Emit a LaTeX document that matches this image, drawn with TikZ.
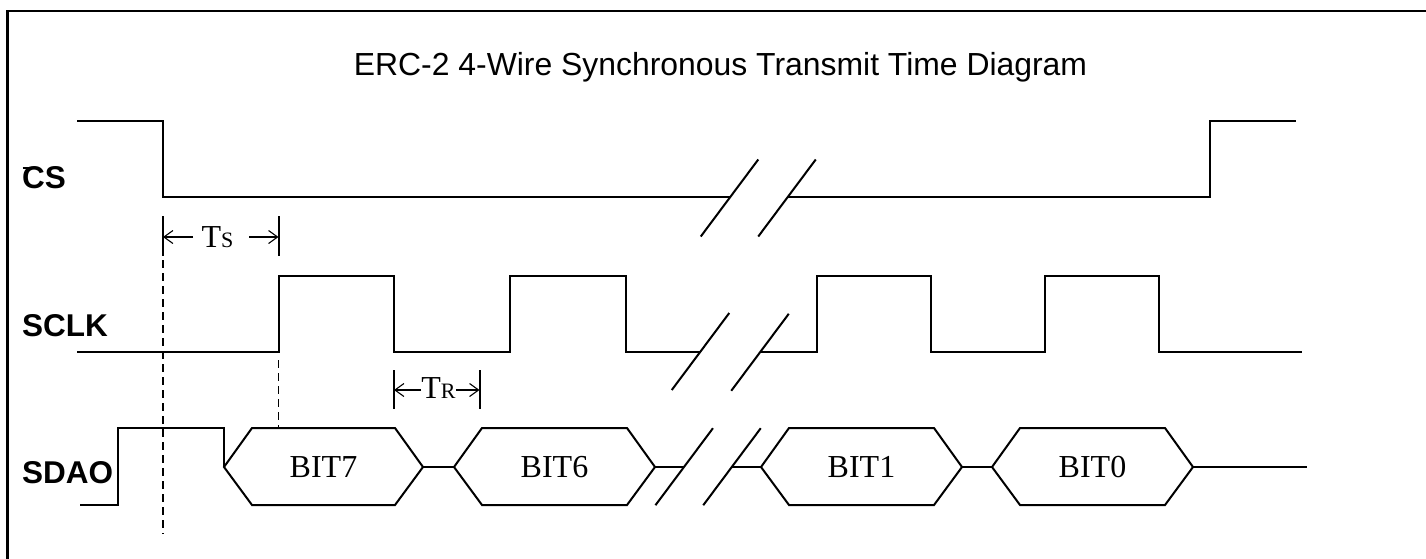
\documentclass[tikz,border=0pt]{standalone}
\usepackage{fontspec}
\setmainfont{Liberation Serif}
\setsansfont{Liberation Sans}
\usetikzlibrary{arrows.meta}
\tikzset{
  wave/.style={line width=2pt, line join=miter},
  frame/.style={line width=2.6pt},
  guide/.style={line width=1.5pt, dash pattern=on 8pt off 5pt},
  tick/.style={line width=2pt},
  dimarrow/.style={line width=1.1pt, -{Straight Barb[length=9pt,width=13pt,line width=1.1pt]}},
  siglbl/.style={anchor=base west, inner sep=0pt, font=\fontsize{31.5}{36}\selectfont\sffamily\bfseries},
  bitlbl/.style={anchor=base, inner sep=0pt, font=\fontsize{32}{38}\selectfont\rmfamily},
  dimlbl/.style={anchor=base, inner sep=0pt, font=\fontsize{32}{38}\selectfont\rmfamily},
  titlelbl/.style={anchor=base, inner sep=0pt, font=\fontsize{31.9}{38}\selectfont\sffamily}
}
\newcommand{\hexbit}[4]{% name, left tip x, right tip x, label
  \draw[wave] (#2,467) -- (#2+28,428) -- (#3-28,428) -- (#3,467) -- (#3-28,505) -- (#2+28,505) -- cycle;
  \node[bitlbl] (#1) at ({(#2+#3)/2},477) {#4};
}
\newcommand{\brk}[2]{% slash centred at (x,y)
  \draw[wave] (#1-28.75,#2+38.5) -- (#1+28.75,#2-38.5);
}
\begin{document}
\begin{tikzpicture}[x=1pt,y=-1pt]
\useasboundingbox (0,0) rectangle (1426,558);
% frame (top and left edges only)
\draw[frame] (7.5,559) -- (7.5,11) -- (1427,11);
% title
\node[titlelbl] (title) at (720.5,75) {ERC-2 4-Wire Synchronous Transmit Time Diagram};
% signal labels
\node[siglbl] (cs) at (22,188) {CS};
\draw[line width=2pt] (22.5,168) -- (33,168);
\node[siglbl] (sclk) at (22,336) {SCLK};
\node[siglbl] (sdao) at (22,483) {SDAO};
% CS waveform
\draw[wave] (77,121) -- (163,121) -- (163,197) -- (729.5,197);
\brk{729.5}{198}
\brk{787}{198}
\draw[wave] (787,197) -- (1210,197) -- (1210,121) -- (1296,121);
% SCLK waveform
\draw[wave] (77,352) -- (278.5,352) -- (278.5,276) -- (394,276) -- (394,352) -- (510,352) -- (510,276) -- (626,276) -- (626,352) -- (700.5,352);
\brk{700.5}{351.5}
\brk{760}{352.3}
\draw[wave] (760,352) -- (817,352) -- (817,276) -- (931,276) -- (931,352) -- (1045,352) -- (1045,276) -- (1159,276) -- (1159,352) -- (1302,352);
% SDAO waveform
\draw[wave] (80,505) -- (118,505) -- (118,428) -- (224,428) -- (224,467);
\hexbit{b7}{224}{423}{BIT7}
\draw[wave] (423,467) -- (454,467);
\hexbit{b6}{454}{655}{BIT6}
\draw[wave] (655,467) -- (684.2,467);
\brk{684.2}{466.7}
\brk{732}{466.7}
\draw[wave] (732,467) -- (761,467);
\hexbit{b1}{761}{962}{BIT1}
\draw[wave] (962,467) -- (992,467);
\hexbit{b0}{992}{1193}{BIT0}
\draw[wave] (1193,467) -- (1307,467);
% guide lines
\draw[guide] (163,260) -- (163,534);
\draw[guide] (278.5,360) -- (278.5,428);
% Ts
\draw[tick] (163,216) -- (163,256);
\draw[tick] (278.5,216) -- (278.5,256);
\node[dimlbl] (ts) at (217.5,247) {T{\fontsize{22}{26}\selectfont S}};
\coordinate (tsl) at (193,237);
\coordinate (tsr) at (249,237);
\draw[dimarrow] (tsl) -- (163,237);
\draw[dimarrow] (tsr) -- (278.5,237);
% TR
\draw[tick] (394,370) -- (394,409);
\draw[tick] (479.5,370) -- (479.5,409);
\node[dimlbl] (tr) at (438.5,398.5) {T{\fontsize{22}{26}\selectfont R}};
\draw[dimarrow] (tr.west |- 0,390) -- (394,390);
\draw[dimarrow] (tr.east |- 0,390) -- (479.5,390);
\end{tikzpicture}
\end{document}
